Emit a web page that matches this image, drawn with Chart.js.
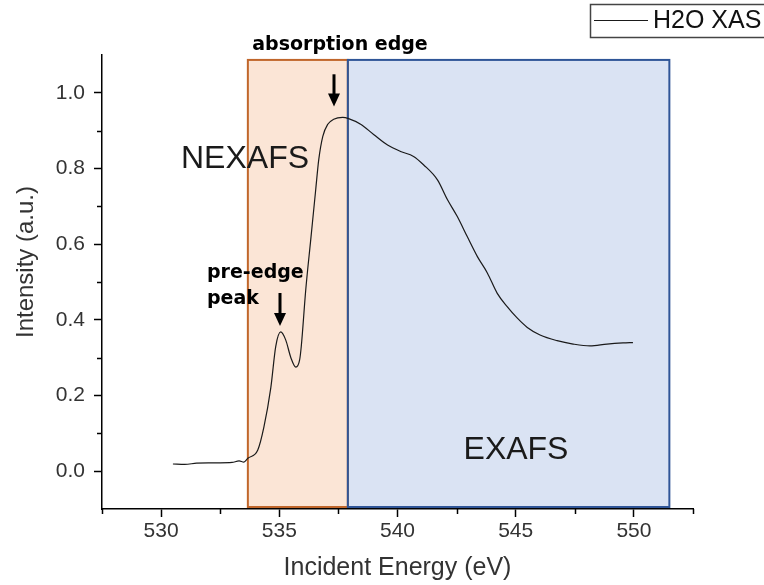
<!DOCTYPE html>
<html><head><meta charset="utf-8">
<script src="https://cdn.jsdelivr.net/npm/chart.js@4.4.1/dist/chart.umd.min.js"></script>
<style>html,body{margin:0;padding:0;background:#fff;}#wrap{width:764px;height:585px;position:relative;}</style>
</head><body><div id="wrap"><canvas id="c" width="764" height="585"></canvas></div>
<script>
// ---- data ----
const seriesLabel = 'H2O XAS';
const energy = [530.5, 531, 531.5, 532, 532.5, 533, 533.3, 533.5, 533.67, 534.09, 534.35, 534.64, 534.85, 535.06, 535.27, 535.49, 535.70, 535.86, 535.93, 536.12, 536.33, 536.54, 536.67, 536.84, 537.05, 537.30, 537.68, 537.93, 538.44, 538.99, 539.58, 540.13, 540.68, 541.10, 541.69, 542.11, 542.53, 542.95, 543.38, 543.80, 544.22, 544.64, 545.06, 545.49, 546.03, 546.75, 547.43, 548.14, 548.86, 549.54, 549.96];
const intensity = [0.019, 0.018, 0.021, 0.022, 0.022, 0.023, 0.027, 0.024, 0.034, 0.056, 0.117, 0.22, 0.33, 0.368, 0.347, 0.30, 0.275, 0.294, 0.33, 0.48, 0.612, 0.744, 0.824, 0.885, 0.917, 0.93, 0.935, 0.932, 0.917, 0.89, 0.862, 0.845, 0.832, 0.81, 0.77, 0.718, 0.673, 0.62, 0.567, 0.524, 0.47, 0.435, 0.405, 0.38, 0.36, 0.345, 0.336, 0.331, 0.336, 0.339, 0.34];
const xTickLabels = [530, 535, 540, 545, 550];
const xMinorTicks = [527.5, 532.5, 537.5, 542.5, 547.5, 552.5];
const yTickLabels = [0.0, 0.2, 0.4, 0.6, 0.8, 1.0];
const yMinorTicks = [0.1, 0.3, 0.5, 0.7, 0.9];
const nexafsRange = [533.67, 537.9];
const exafsRange = [537.9, 551.5];
const regionTop = 1.087;
const regionNames = ['NEXAFS', 'EXAFS'];
const edgeArrow = {x: 537.3, from: 1.049, to: 0.964};
const preArrow = {x: 535.04, from: 0.471, to: 0.384};
const xTitle = 'Incident Energy (eV)';
const yTitle = 'Intensity (a.u.)';

const FONT = '"Liberation Sans", Arial, sans-serif';
const BOLDFONT = '"DejaVu Sans", sans-serif';

function arrow(ctx, x, y1, y2) {
  ctx.save();
  ctx.strokeStyle = '#000'; ctx.fillStyle = '#000'; ctx.lineWidth = 3;
  const head = 13;
  ctx.beginPath(); ctx.moveTo(x, y1); ctx.lineTo(x, y2 - head + 1); ctx.stroke();
  ctx.beginPath(); ctx.moveTo(x - 6, y2 - head); ctx.lineTo(x + 6, y2 - head); ctx.lineTo(x, y2); ctx.closePath(); ctx.fill();
  ctx.restore();
}

const deco = {
  id: 'deco',
  beforeDatasetsDraw(chart) {
    const {ctx, scales: {x, y}} = chart;
    const yb = y.getPixelForValue(y.min) - 2;
    const yt = y.getPixelForValue(regionTop);
    const boxes = [
      {r: nexafsRange, fill: '#FBE5D6', stroke: '#C0662B'},
      {r: exafsRange, fill: '#DAE3F3', stroke: '#2F5597'}
    ];
    ctx.save();
    boxes.forEach(b => {
      const x1 = x.getPixelForValue(b.r[0]), x2 = x.getPixelForValue(b.r[1]);
      ctx.fillStyle = b.fill; ctx.fillRect(x1, yt, x2 - x1, yb - yt);
    });
    boxes.forEach(b => {
      const x1 = x.getPixelForValue(b.r[0]), x2 = x.getPixelForValue(b.r[1]);
      ctx.strokeStyle = b.stroke; ctx.lineWidth = 2; ctx.strokeRect(x1, yt, x2 - x1, yb - yt);
    });
    ctx.restore();
  },
  afterDatasetsDraw(chart) {
    const {ctx, scales: {x, y}} = chart;
    ctx.save();
    // minor ticks
    ctx.strokeStyle = '#000'; ctx.lineWidth = 1.5;
    const axY = y.getPixelForValue(y.min), axX = x.getPixelForValue(x.min);
    xMinorTicks.forEach(v => { const px = Math.round(x.getPixelForValue(v)) + 0.5; ctx.beginPath(); ctx.moveTo(px, axY); ctx.lineTo(px, axY + 5); ctx.stroke(); });
    yMinorTicks.forEach(v => { const py = Math.round(y.getPixelForValue(v)) + 0.5; ctx.beginPath(); ctx.moveTo(axX, py); ctx.lineTo(axX - 5, py); ctx.stroke(); });
    // region labels
    ctx.fillStyle = '#1a1a1a';
    ctx.font = '32px ' + FONT;
    ctx.textAlign = 'center'; ctx.textBaseline = 'middle';
    ctx.fillText(regionNames[0], 245, 159);
    ctx.fillText(regionNames[1], 516, 450);
    // annotations
    ctx.fillStyle = '#000';
    ctx.font = 'bold 19px ' + BOLDFONT;
    ctx.textAlign = 'center';
    ctx.fillText('absorption edge', 340, 45);
    ctx.textAlign = 'left';
    ctx.fillText('pre-edge', 207, 273);
    ctx.fillText('peak', 207, 299);
    arrow(ctx, Math.round(x.getPixelForValue(edgeArrow.x)), y.getPixelForValue(edgeArrow.from), y.getPixelForValue(edgeArrow.to));
    arrow(ctx, Math.round(x.getPixelForValue(preArrow.x)), y.getPixelForValue(preArrow.from), y.getPixelForValue(preArrow.to));
    ctx.restore();
  },
  afterDraw(chart) {
    const {ctx, chartArea} = chart;
    ctx.save();
    // axis titles
    ctx.fillStyle = '#333';
    ctx.font = '25px ' + FONT;
    ctx.textAlign = 'center'; ctx.textBaseline = 'middle';
    ctx.fillText(xTitle, (chartArea.left + chartArea.right) / 2, 568);
    ctx.translate(26, 262); ctx.rotate(-Math.PI / 2);
    ctx.font = '24px ' + FONT;
    ctx.fillText(yTitle, 0, 0);
    ctx.restore();
    // legend
    ctx.save();
    ctx.strokeStyle = '#444'; ctx.lineWidth = 1.5;
    ctx.strokeRect(590.5, 4.5, 220, 33);
    ctx.strokeStyle = '#1a1a1a'; ctx.lineWidth = 1.2;
    ctx.beginPath(); ctx.moveTo(594, 20.5); ctx.lineTo(648, 20.5); ctx.stroke();
    ctx.fillStyle = '#111'; ctx.font = '25px ' + FONT; ctx.textAlign = 'left'; ctx.textBaseline = 'middle';
    ctx.fillText(seriesLabel, 653, 21);
    ctx.restore();
  }
};

const chart = new Chart(document.getElementById('c'), {
  type: 'line',
  data: {datasets: [{label: seriesLabel, data: energy.map((e, i) => ({x: e, y: intensity[i]})),
    borderColor: '#1a1a1a', borderWidth: 1.2, pointRadius: 0, fill: false, cubicInterpolationMode: 'monotone'}]},
  options: {
    responsive: false, animation: false, maintainAspectRatio: false,
    layout: {padding: {top: 55, right: 71, left: 0, bottom: 0}},
    plugins: {legend: {display: false}, tooltip: {enabled: false}},
    scales: {
      x: {type: 'linear', min: 527.5, max: 552.5,
        afterFit(s) { s.height = 76; },
        afterBuildTicks(s) { s.ticks = xTickLabels.map(v => ({value: v})); },
        grid: {drawOnChartArea: false, drawTicks: true, tickLength: 8, tickWidth: 1.5, tickColor: '#000'},
        border: {display: true, color: '#000', width: 1.5},
        ticks: {color: '#333', font: {family: FONT, size: 21}, padding: 2, maxRotation: 0, autoSkip: false,
          callback: v => String(v)}},
      y: {type: 'linear', min: -0.1, max: 1.1,
        afterFit(s) { s.width = 102; },
        afterBuildTicks(s) { s.ticks = yTickLabels.map(v => ({value: v})); },
        grid: {drawOnChartArea: false, drawTicks: true, tickLength: 8, tickWidth: 1.5, tickColor: '#000'},
        border: {display: true, color: '#000', width: 1.5},
        ticks: {color: '#333', font: {family: FONT, size: 21}, padding: 9, autoSkip: false,
          callback: v => Number(v).toFixed(1)}}
    }
  },
  plugins: [deco]
});
</script></body></html>
